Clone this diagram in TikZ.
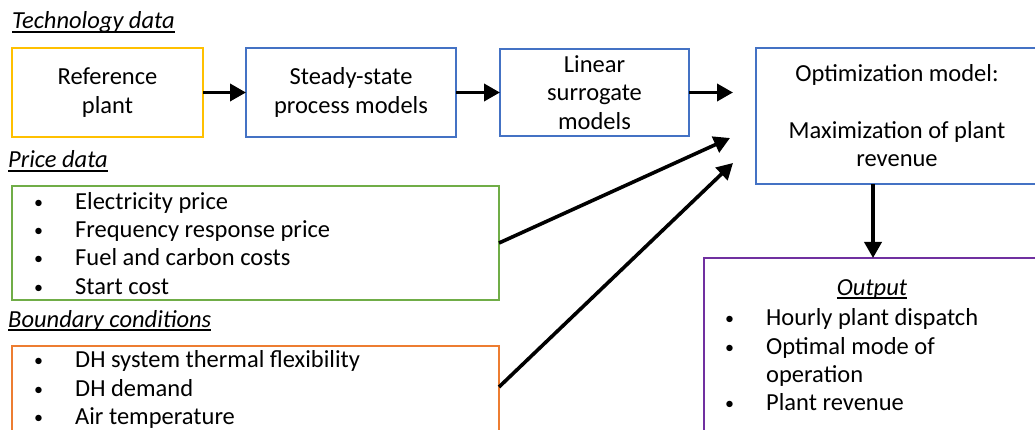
\documentclass[tikz,border=0pt]{standalone}
\usepackage{fontspec}
\setmainfont{Carlito}
\usetikzlibrary{arrows.meta}

\definecolor{techyellow}{HTML}{FFC000}
\definecolor{modelblue}{HTML}{4472C4}
\definecolor{pricegreen}{HTML}{70AD47}
\definecolor{boundorange}{HTML}{ED7D31}
\definecolor{outpurple}{HTML}{7030A0}

\newcommand\bodyfont{\fontsize{24.5}{28.3}\selectfont}
% underlined group heading
\newcommand\ulabel[1]{\setbox0\hbox{#1}\rlap{\usebox0}\rule[-4pt]{\wd0}{1.8pt}}
% small list bullet
\newcommand\itm{\raisebox{1pt}{\fontsize{18}{18}\selectfont\textbullet}}

\tikzset{
  box/.style={draw, line width=1.3pt, inner sep=0pt, outer sep=0pt,
              align=center, font=\bodyfont},
  flow/.style={line width=3.6pt, -{Triangle[length=16pt,width=17pt]}},
  grp/.style={font=\bodyfont\itshape, inner sep=0pt, anchor=base west},
  list/.style={font=\bodyfont, inner sep=0pt, anchor=west},
}

\begin{document}
\begin{tikzpicture}[x=1pt, y=-1pt]
\useasboundingbox (0,0) rectangle (1035,430);
\clip (0,0) rectangle (1035,430);

% group headings
\node[grp] (techlbl)  at (12,29)  {\ulabel{Technology data}};
\node[grp] (pricelbl) at (8,168)  {\ulabel{Price data}};
\node[grp] (boundlbl) at (8,327)  {\ulabel{Boundary conditions}};

% model chain
\node[box, draw=techyellow, minimum width=191pt, minimum height=89pt]
  (ref) at (107.5,92.5) {Reference\\plant};
\node[box, draw=modelblue, minimum width=210pt, minimum height=89pt]
  (ssm) at (351,92.5) {Steady-state\\process models};
\node[box, draw=modelblue, minimum width=189pt, minimum height=87pt]
  (lsm) at (594.5,92.5) {Linear\\surrogate\\models};
\node[box, draw=modelblue, minimum width=282pt, minimum height=136pt]
  (opt) at (897,116) {Optimization model:\\[28.3pt]Maximization of plant\\revenue};

% input data boxes
\node[box, draw=pricegreen, minimum width=487pt, minimum height=114pt]
  (price) at (255.5,243) {};
\node[list] (pricelist) at (34,246) {%
  \begin{tabular}{@{}p{41pt}@{}l@{}}
  \itm & Electricity price\\
  \itm & Frequency response price\\
  \itm & Fuel and carbon costs\\
  \itm & Start cost
  \end{tabular}};

\node[box, draw=boundorange, minimum width=487pt, minimum height=94pt]
  (bound) at (255.5,393) {};
\node[list] (boundlist) at (34,390.5) {%
  \begin{tabular}{@{}p{41pt}@{}l@{}}
  \itm & DH system thermal flexibility\\
  \itm & DH demand\\
  \itm & Air temperature
  \end{tabular}};

% output box
\node[box, draw=outpurple, minimum width=338pt, minimum height=200pt]
  (out) at (873,358) {};
\node[font=\bodyfont\itshape, inner sep=0pt, anchor=base]
  (outlbl) at (872,295) {\ulabel{Output}};
\node[list] (outlist) at (725,362.5) {%
  \begin{tabular}{@{}p{41pt}@{}l@{}}
  \itm & Hourly plant dispatch\\
  \itm & Optimal mode of\\
       & operation\\
  \itm & Plant revenue
  \end{tabular}};

% free ends of the arrows into the optimization model
\coordinate (optin1) at (733,92.5);
\coordinate (optin2) at (730,138);
\coordinate (optin3) at (733,163);

% connectors
\draw[flow] (ref.east) -- (ssm.west);
\draw[flow] (ssm.east) -- (lsm.west);
\draw[flow] (lsm.east) -- (optin1);
\draw[flow] (price.east) -- (optin2);
\draw[flow] ([yshift=-41pt]bound.north east) -- (optin3);
\draw[flow] (opt.south -| out.north) -- (out.north);
\end{tikzpicture}
\end{document}
